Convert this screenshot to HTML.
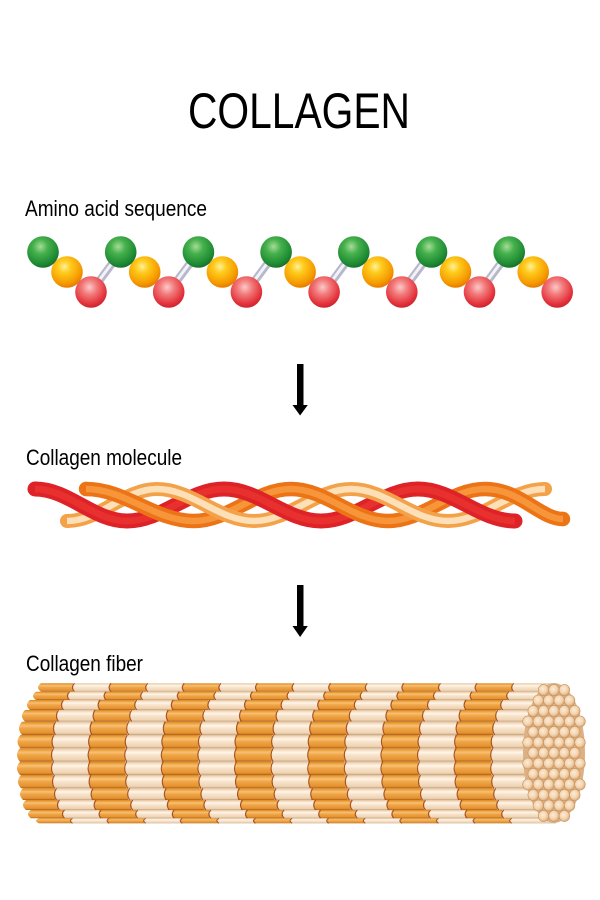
<!DOCTYPE html>
<html><head><meta charset="utf-8"><style>
html,body{margin:0;padding:0;background:#fff;}
svg{display:block;}
text{font-family:"Liberation Sans",Arial,sans-serif;fill:#000;}
</style></head><body>
<svg width="600" height="900" viewBox="0 0 600 900" xmlns="http://www.w3.org/2000/svg">
<defs>
  <radialGradient id="bg" cx="0.42" cy="0.33" r="0.68">
    <stop offset="0" stop-color="#a6dc96"/><stop offset="0.35" stop-color="#45b04c"/><stop offset="0.8" stop-color="#1f8c34"/><stop offset="1" stop-color="#17702a"/>
  </radialGradient>
  <radialGradient id="by" cx="0.42" cy="0.33" r="0.68">
    <stop offset="0" stop-color="#fff09a"/><stop offset="0.3" stop-color="#ffcb1c"/><stop offset="0.78" stop-color="#f59a00"/><stop offset="1" stop-color="#e67a00"/>
  </radialGradient>
  <radialGradient id="br" cx="0.45" cy="0.35" r="0.68">
    <stop offset="0" stop-color="#fcc8c8"/><stop offset="0.35" stop-color="#f27a7a"/><stop offset="0.78" stop-color="#e3333c"/><stop offset="1" stop-color="#c71f2b"/>
  </radialGradient>
  <linearGradient id="go" x1="0" y1="0" x2="0" y2="1">
    <stop offset="0" stop-color="#d2822a"/><stop offset="0.08" stop-color="#e9992f"/><stop offset="0.3" stop-color="#f7c075"/><stop offset="0.5" stop-color="#efa547"/><stop offset="0.85" stop-color="#e5922f"/><stop offset="1" stop-color="#a95f1a"/>
  </linearGradient>
  <linearGradient id="gp" x1="0" y1="0" x2="0" y2="1">
    <stop offset="0" stop-color="#dcbb96"/><stop offset="0.08" stop-color="#f0d5b6"/><stop offset="0.3" stop-color="#fff6ea"/><stop offset="0.5" stop-color="#f8e3ca"/><stop offset="0.85" stop-color="#eed4b6"/><stop offset="1" stop-color="#c4a07a"/>
  </linearGradient>
  <radialGradient id="gc" cx="0.42" cy="0.4" r="0.62">
    <stop offset="0" stop-color="#fcecd8"/><stop offset="0.6" stop-color="#f3d3ad"/><stop offset="1" stop-color="#d8a878"/>
  </radialGradient>
  <clipPath id="bodyclip"><rect x="0" y="683" width="556" height="141"/></clipPath>
  <g id="row">
    <path d="M20,0 H52 V10 H20 Q14,5 20,0Z" fill="url(#go)"/>
    <rect x="52" y="0" width="36.6" height="10" fill="url(#gp)"/>
    <rect x="88.6" y="0" width="36.6" height="10" fill="url(#go)"/>
    <rect x="125.2" y="0" width="36.6" height="10" fill="url(#gp)"/>
    <rect x="161.8" y="0" width="36.6" height="10" fill="url(#go)"/>
    <rect x="198.4" y="0" width="36.6" height="10" fill="url(#gp)"/>
    <rect x="235" y="0" width="36.6" height="10" fill="url(#go)"/>
    <rect x="271.6" y="0" width="36.6" height="10" fill="url(#gp)"/>
    <rect x="308.2" y="0" width="36.6" height="10" fill="url(#go)"/>
    <rect x="344.8" y="0" width="36.6" height="10" fill="url(#gp)"/>
    <rect x="381.4" y="0" width="36.6" height="10" fill="url(#go)"/>
    <rect x="418" y="0" width="36.6" height="10" fill="url(#gp)"/>
    <rect x="454.6" y="0" width="36.6" height="10" fill="url(#go)"/>
    <rect x="491.2" y="0" width="75" height="10" fill="url(#gp)"/>
    <g fill="none" stroke="#a9521f" stroke-width="1.1">
      <path d="M53.5,0 Q49.5,5 53.5,10" vector-effect="non-scaling-stroke"/>
      <path d="M90.1,0 Q86.1,5 90.1,10" vector-effect="non-scaling-stroke"/>
      <path d="M126.7,0 Q122.7,5 126.7,10" vector-effect="non-scaling-stroke"/>
      <path d="M163.3,0 Q159.3,5 163.3,10" vector-effect="non-scaling-stroke"/>
      <path d="M199.9,0 Q195.9,5 199.9,10" vector-effect="non-scaling-stroke"/>
      <path d="M236.5,0 Q232.5,5 236.5,10" vector-effect="non-scaling-stroke"/>
      <path d="M273.1,0 Q269.1,5 273.1,10" vector-effect="non-scaling-stroke"/>
      <path d="M309.7,0 Q305.7,5 309.7,10" vector-effect="non-scaling-stroke"/>
      <path d="M346.3,0 Q342.3,5 346.3,10" vector-effect="non-scaling-stroke"/>
      <path d="M382.9,0 Q378.9,5 382.9,10" vector-effect="non-scaling-stroke"/>
      <path d="M419.5,0 Q415.5,5 419.5,10" vector-effect="non-scaling-stroke"/>
      <path d="M456.1,0 Q452.1,5 456.1,10" vector-effect="non-scaling-stroke"/>
      <path d="M492.7,0 Q488.7,5 492.7,10" vector-effect="non-scaling-stroke"/>
    </g>
  </g>
  <ellipse id="c" cx="0" cy="0" rx="5.3" ry="5.6" fill="url(#gc)" stroke="#c8935e" stroke-width="0.6"/>
</defs>

<rect width="600" height="900" fill="#fff"/>

<!-- Title -->
<text x="188" y="128" font-size="50" textLength="222" lengthAdjust="spacingAndGlyphs">COLLAGEN</text>

<!-- Labels -->
<text x="25" y="216" font-size="22" textLength="182" lengthAdjust="spacingAndGlyphs">Amino acid sequence</text>
<text x="26" y="465" font-size="22" textLength="156" lengthAdjust="spacingAndGlyphs">Collagen molecule</text>
<text x="26" y="671" font-size="22" textLength="117" lengthAdjust="spacingAndGlyphs">Collagen fiber</text>

<!-- Amino acid chain: sticks -->
<g stroke-linecap="round">
  <g stroke="#b8b8cc" stroke-width="8">
    <line x1="91" y1="292" x2="120.7" y2="252"/>
    <line x1="168.7" y1="292" x2="198.4" y2="252"/>
    <line x1="246.4" y1="292" x2="276.1" y2="252"/>
    <line x1="324.1" y1="292" x2="353.8" y2="252"/>
    <line x1="401.8" y1="292" x2="431.5" y2="252"/>
    <line x1="479.5" y1="292" x2="509.2" y2="252"/>
  </g>
  <g stroke="#f2f2f8" stroke-width="3">
    <line x1="92" y1="290" x2="121.7" y2="250"/>
    <line x1="169.7" y1="290" x2="199.4" y2="250"/>
    <line x1="247.4" y1="290" x2="277.1" y2="250"/>
    <line x1="325.1" y1="290" x2="354.8" y2="250"/>
    <line x1="402.8" y1="290" x2="432.5" y2="250"/>
    <line x1="480.5" y1="290" x2="510.2" y2="250"/>
  </g>
</g>
<!-- orange balls -->
<g fill="url(#by)">
  <circle cx="67" cy="272" r="15.8"/>
  <circle cx="144.7" cy="272" r="15.8"/>
  <circle cx="222.4" cy="272" r="15.8"/>
  <circle cx="300.1" cy="272" r="15.8"/>
  <circle cx="377.8" cy="272" r="15.8"/>
  <circle cx="455.5" cy="272" r="15.8"/>
  <circle cx="533.2" cy="272" r="15.8"/>
</g>
<!-- green balls -->
<g fill="url(#bg)">
  <circle cx="43" cy="252" r="15.8"/>
  <circle cx="120.7" cy="252" r="15.8"/>
  <circle cx="198.4" cy="252" r="15.8"/>
  <circle cx="276.1" cy="252" r="15.8"/>
  <circle cx="353.8" cy="252" r="15.8"/>
  <circle cx="431.5" cy="252" r="15.8"/>
  <circle cx="509.2" cy="252" r="15.8"/>
</g>
<!-- red balls -->
<g fill="url(#br)">
  <circle cx="91" cy="292" r="15.8"/>
  <circle cx="168.7" cy="292" r="15.8"/>
  <circle cx="246.4" cy="292" r="15.8"/>
  <circle cx="324.1" cy="292" r="15.8"/>
  <circle cx="401.8" cy="292" r="15.8"/>
  <circle cx="479.5" cy="292" r="15.8"/>
  <circle cx="557.2" cy="292" r="15.8"/>
</g>

<!-- Arrows -->
<rect x="297" y="364" width="6.5" height="44" fill="#000"/>
<polygon points="292.5,405 307.8,405 300.1,415.5" fill="#000"/>
<rect x="297" y="585" width="6.5" height="43" fill="#000"/>
<polygon points="292.5,626 307.8,626 300.1,637" fill="#000"/>

<!-- Triple helix -->
<g fill="none" stroke-linecap="butt">
  <circle cx="35" cy="489" r="7.5" fill="#dd2228"/>
  <circle cx="515" cy="521" r="7.5" fill="#dd2228"/>
  <circle cx="67" cy="521" r="7" fill="#f4a24a"/>
  <circle cx="545" cy="489" r="7" fill="#f4a24a"/>
  <circle cx="86" cy="489" r="7.2" fill="#ec7416"/>
  <circle cx="563" cy="519" r="7.2" fill="#ec7416"/>
  <!-- back segments (ascending) -->
  <g>
    <path d="M127,521 C162.3,521 188.7,489 224,489" stroke="#dd2228" stroke-width="15"/>
    <path d="M127,521 C162.3,521 188.7,489 224,489" stroke="#e8302f" stroke-width="7"/>
    <path d="M321,521 C356.3,521 382.7,489 418,489" stroke="#dd2228" stroke-width="15"/>
    <path d="M321,521 C356.3,521 382.7,489 418,489" stroke="#e8302f" stroke-width="7"/>

    <path d="M67,521 C100,521 124,489 157,489" stroke="#f4a24a" stroke-width="14"/>
    <path d="M67,521 C100,521 124,489 157,489" stroke="#fde0b8" stroke-width="6.5"/>
    <path d="M254,521 C289.3,521 315.7,489 351,489" stroke="#f4a24a" stroke-width="14"/>
    <path d="M254,521 C289.3,521 315.7,489 351,489" stroke="#fde0b8" stroke-width="6.5"/>
    <path d="M448,521 C483.3,521 509.7,489 545,489" stroke="#f4a24a" stroke-width="14"/>
    <path d="M448,521 C483.3,521 509.7,489 545,489" stroke="#fde0b8" stroke-width="6.5"/>

    <path d="M194,521 C229.3,521 255.7,489 291,489" stroke="#ec7416" stroke-width="14.5"/>
    <path d="M194,521 C229.3,521 255.7,489 291,489" stroke="#f6953a" stroke-width="6.5"/>
    <path d="M388,521 C423.3,521 449.7,489 485,489" stroke="#ec7416" stroke-width="14.5"/>
    <path d="M388,521 C423.3,521 449.7,489 485,489" stroke="#f6953a" stroke-width="6.5"/>
  </g>
  <!-- front segments (descending) -->
  <g>
    <path d="M35,489 C68.5,489 93.5,521 127,521" stroke="#dd2228" stroke-width="15"/>
    <path d="M35,489 C68.5,489 93.5,521 127,521" stroke="#e8302f" stroke-width="7"/>
    <path d="M224,489 C259.3,489 285.7,521 321,521" stroke="#dd2228" stroke-width="15"/>
    <path d="M224,489 C259.3,489 285.7,521 321,521" stroke="#e8302f" stroke-width="7"/>
    <path d="M418,489 C453.3,489 479.7,521 515,521" stroke="#dd2228" stroke-width="15"/>
    <path d="M418,489 C453.3,489 479.7,521 515,521" stroke="#e8302f" stroke-width="7"/>

    <path d="M157,489 C192.3,489 218.7,521 254,521" stroke="#f4a24a" stroke-width="14"/>
    <path d="M157,489 C192.3,489 218.7,521 254,521" stroke="#fde0b8" stroke-width="6.5"/>
    <path d="M351,489 C386.3,489 412.7,521 448,521" stroke="#f4a24a" stroke-width="14"/>
    <path d="M351,489 C386.3,489 412.7,521 448,521" stroke="#fde0b8" stroke-width="6.5"/>

    <path d="M86,489 C125.3,489 154.7,521 194,521" stroke="#ec7416" stroke-width="14.5"/>
    <path d="M86,489 C125.3,489 154.7,521 194,521" stroke="#f6953a" stroke-width="6.5"/>
    <path d="M291,489 C326.3,489 352.7,521 388,521" stroke="#ec7416" stroke-width="14.5"/>
    <path d="M291,489 C326.3,489 352.7,521 388,521" stroke="#f6953a" stroke-width="6.5"/>
    <path d="M485,489 C520,489 540,519 563,519" stroke="#ec7416" stroke-width="14.5"/>
    <path d="M485,489 C520,489 540,519 563,519" stroke="#f6953a" stroke-width="6.5"/>
  </g>
</g>

<!-- Collagen fiber body -->
<g clip-path="url(#bodyclip)">
  <use href="#row" transform="translate(21,683.3) scale(1,0.84)"/>
  <use href="#row" transform="translate(16,691.7) scale(1,0.83)"/>
  <use href="#row" transform="translate(10,700) scale(1,1.0)"/>
  <use href="#row" transform="translate(5,710) scale(1,1.17)"/>
  <use href="#row" transform="translate(2,721.7) scale(1,1.33)"/>
  <use href="#row" transform="translate(0.5,735) scale(1,1.33)"/>
  <use href="#row" transform="translate(0,748.3) scale(1,1.34)"/>
  <use href="#row" transform="translate(0,761.7) scale(1,1.33)"/>
  <use href="#row" transform="translate(1,775) scale(1,1.33)"/>
  <use href="#row" transform="translate(3,788.3) scale(1,1.17)"/>
  <use href="#row" transform="translate(6,800) scale(1,1.0)"/>
  <use href="#row" transform="translate(11,810) scale(1,0.83)"/>
  <use href="#row" transform="translate(19,818.3) scale(1,0.5)"/>
</g>

<!-- End face -->
<ellipse cx="554" cy="753" rx="31" ry="70" fill="#dcb186"/>
<g>
  <use href="#c" x="543.6" y="690"/><use href="#c" x="554" y="690"/><use href="#c" x="564.4" y="690"/>
  <use href="#c" x="538.4" y="700.5"/><use href="#c" x="548.8" y="700.5"/><use href="#c" x="559.2" y="700.5"/><use href="#c" x="569.6" y="700.5"/>
  <use href="#c" x="533.2" y="711"/><use href="#c" x="543.6" y="711"/><use href="#c" x="554" y="711"/><use href="#c" x="564.4" y="711"/><use href="#c" x="574.8" y="711"/>
  <use href="#c" x="528" y="721.5"/><use href="#c" x="538.4" y="721.5"/><use href="#c" x="548.8" y="721.5"/><use href="#c" x="559.2" y="721.5"/><use href="#c" x="569.6" y="721.5"/><use href="#c" x="580" y="721.5"/>
  <use href="#c" x="533.2" y="732"/><use href="#c" x="543.6" y="732"/><use href="#c" x="554" y="732"/><use href="#c" x="564.4" y="732"/><use href="#c" x="574.8" y="732"/>
  <use href="#c" x="528" y="742.5"/><use href="#c" x="538.4" y="742.5"/><use href="#c" x="548.8" y="742.5"/><use href="#c" x="559.2" y="742.5"/><use href="#c" x="569.6" y="742.5"/><use href="#c" x="580" y="742.5"/>
  <use href="#c" x="533.2" y="753"/><use href="#c" x="543.6" y="753"/><use href="#c" x="554" y="753"/><use href="#c" x="564.4" y="753"/><use href="#c" x="574.8" y="753"/>
  <use href="#c" x="528" y="763.5"/><use href="#c" x="538.4" y="763.5"/><use href="#c" x="548.8" y="763.5"/><use href="#c" x="559.2" y="763.5"/><use href="#c" x="569.6" y="763.5"/><use href="#c" x="580" y="763.5"/>
  <use href="#c" x="533.2" y="774"/><use href="#c" x="543.6" y="774"/><use href="#c" x="554" y="774"/><use href="#c" x="564.4" y="774"/><use href="#c" x="574.8" y="774"/>
  <use href="#c" x="528" y="784.5"/><use href="#c" x="538.4" y="784.5"/><use href="#c" x="548.8" y="784.5"/><use href="#c" x="559.2" y="784.5"/><use href="#c" x="569.6" y="784.5"/><use href="#c" x="580" y="784.5"/>
  <use href="#c" x="533.2" y="795"/><use href="#c" x="543.6" y="795"/><use href="#c" x="554" y="795"/><use href="#c" x="564.4" y="795"/><use href="#c" x="574.8" y="795"/>
  <use href="#c" x="538.4" y="805.5"/><use href="#c" x="548.8" y="805.5"/><use href="#c" x="559.2" y="805.5"/><use href="#c" x="569.6" y="805.5"/>
  <use href="#c" x="543.6" y="816"/><use href="#c" x="554" y="816"/><use href="#c" x="564.4" y="816"/>
</g>
</svg>
</body></html>
